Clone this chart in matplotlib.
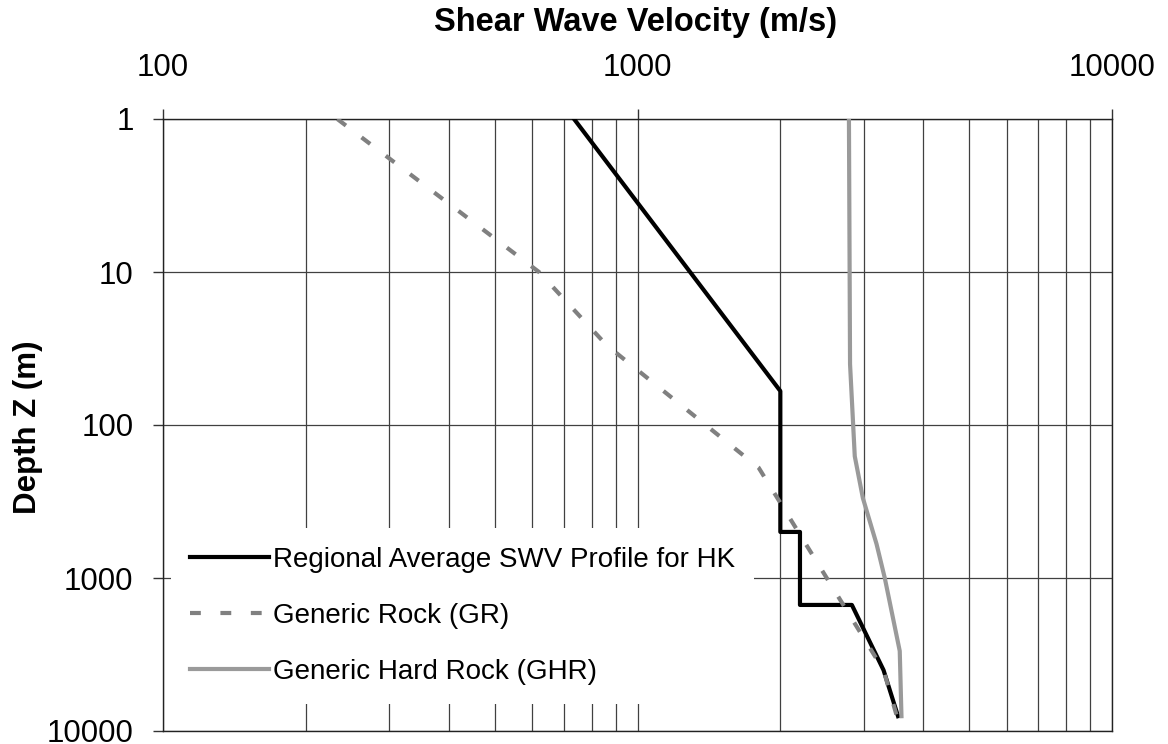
import matplotlib
matplotlib.use("Agg")
import matplotlib.pyplot as plt
from matplotlib.ticker import LogLocator, FixedLocator, NullFormatter

plt.rcParams['font.family'] = ['Liberation Sans', 'DejaVu Sans']

# Regional average SWV profile for HK (depth m, velocity m/s)
hk_depth = [1, 60, 500, 500, 1500, 1500, 4000, 8000]
hk_vs = [735, 2000, 2000, 2200, 2200, 2830, 3300, 3540]

# Generic rock (GR)
gr_depth = [1, 10, 30, 190, 1000, 4000, 8000]
gr_vs = [233, 620, 860, 1800, 2505, 3300, 3520]

# Generic hard rock (GHR)
ghr_depth = [1, 40, 160, 300, 600, 1000, 3000, 8000]
ghr_vs = [2790, 2805, 2870, 2985, 3190, 3320, 3570, 3600]

x_ticks = [100, 1000, 10000]
y_ticks = [1, 10, 100, 1000, 10000]

fig = plt.figure(figsize=(11.68, 7.44), dpi=100)
ax = fig.add_axes([163/1168, 13/744, 949/1168, 612/744])

ax.plot(hk_vs, hk_depth, color="black", lw=3, label="Regional Average SWV Profile for HK", zorder=3)
ax.plot(gr_vs, gr_depth, color="#808080", lw=3, dashes=(2.6, 4.7),
        label="Generic Rock (GR)", zorder=4)
ax.plot(ghr_vs, ghr_depth, color="#9a9a9a", lw=3, label="Generic Hard Rock (GHR)", zorder=5)

ax.set_xscale("log")
ax.set_yscale("log")
ax.set_xlim(100, 10000)
ax.set_ylim(10000, 1)

ax.xaxis.set_major_locator(FixedLocator(x_ticks))
ax.set_xticklabels([str(v) for v in x_ticks])
ax.xaxis.set_minor_locator(LogLocator(base=10, subs=range(2, 10)))
ax.xaxis.set_minor_formatter(NullFormatter())
ax.yaxis.set_major_locator(FixedLocator(y_ticks))
ax.set_yticklabels([str(v) for v in y_ticks])
ax.yaxis.set_minor_locator(FixedLocator([]))

ax.xaxis.tick_top()
ax.tick_params(axis="x", which="major", direction="out", length=7.2, width=1,
               color="#333333", labelsize=22.5, pad=18.5, top=True, bottom=False)
ax.tick_params(axis="x", which="minor", length=0, top=False, bottom=False)
ax.tick_params(axis="y", which="major", direction="out", length=7.2, width=1,
               color="#333333", labelsize=22.5, pad=14)

ax.grid(True, axis="x", which="both", color="#404040", lw=0.9, zorder=1)
ax.grid(True, axis="y", which="major", color="#404040", lw=0.9, zorder=1)
ax.set_axisbelow(True)

for sp in ax.spines.values():
    sp.set_color("#222222")
    sp.set_linewidth(1)

fig.text(636/1168, 1 - 23/744, "Shear Wave Velocity (m/s)", ha="center", va="center",
         fontsize=23.5, fontweight="bold")
fig.text(28/1168, 1 - 427/744, "Depth Z (m)", ha="center", va="center", rotation=90,
         fontsize=22.5, fontweight="bold")

leg = ax.legend(loc="upper left", bbox_to_anchor=(8/949, (731-528)/612), borderaxespad=0,
                fontsize=20, handlelength=2.84, handletextpad=0.14, labelspacing=1.08,
                borderpad=0.68, frameon=True, fancybox=False, facecolor="white",
                edgecolor="none", framealpha=1)

plt.savefig("out.png", dpi=100)
plt.close()
